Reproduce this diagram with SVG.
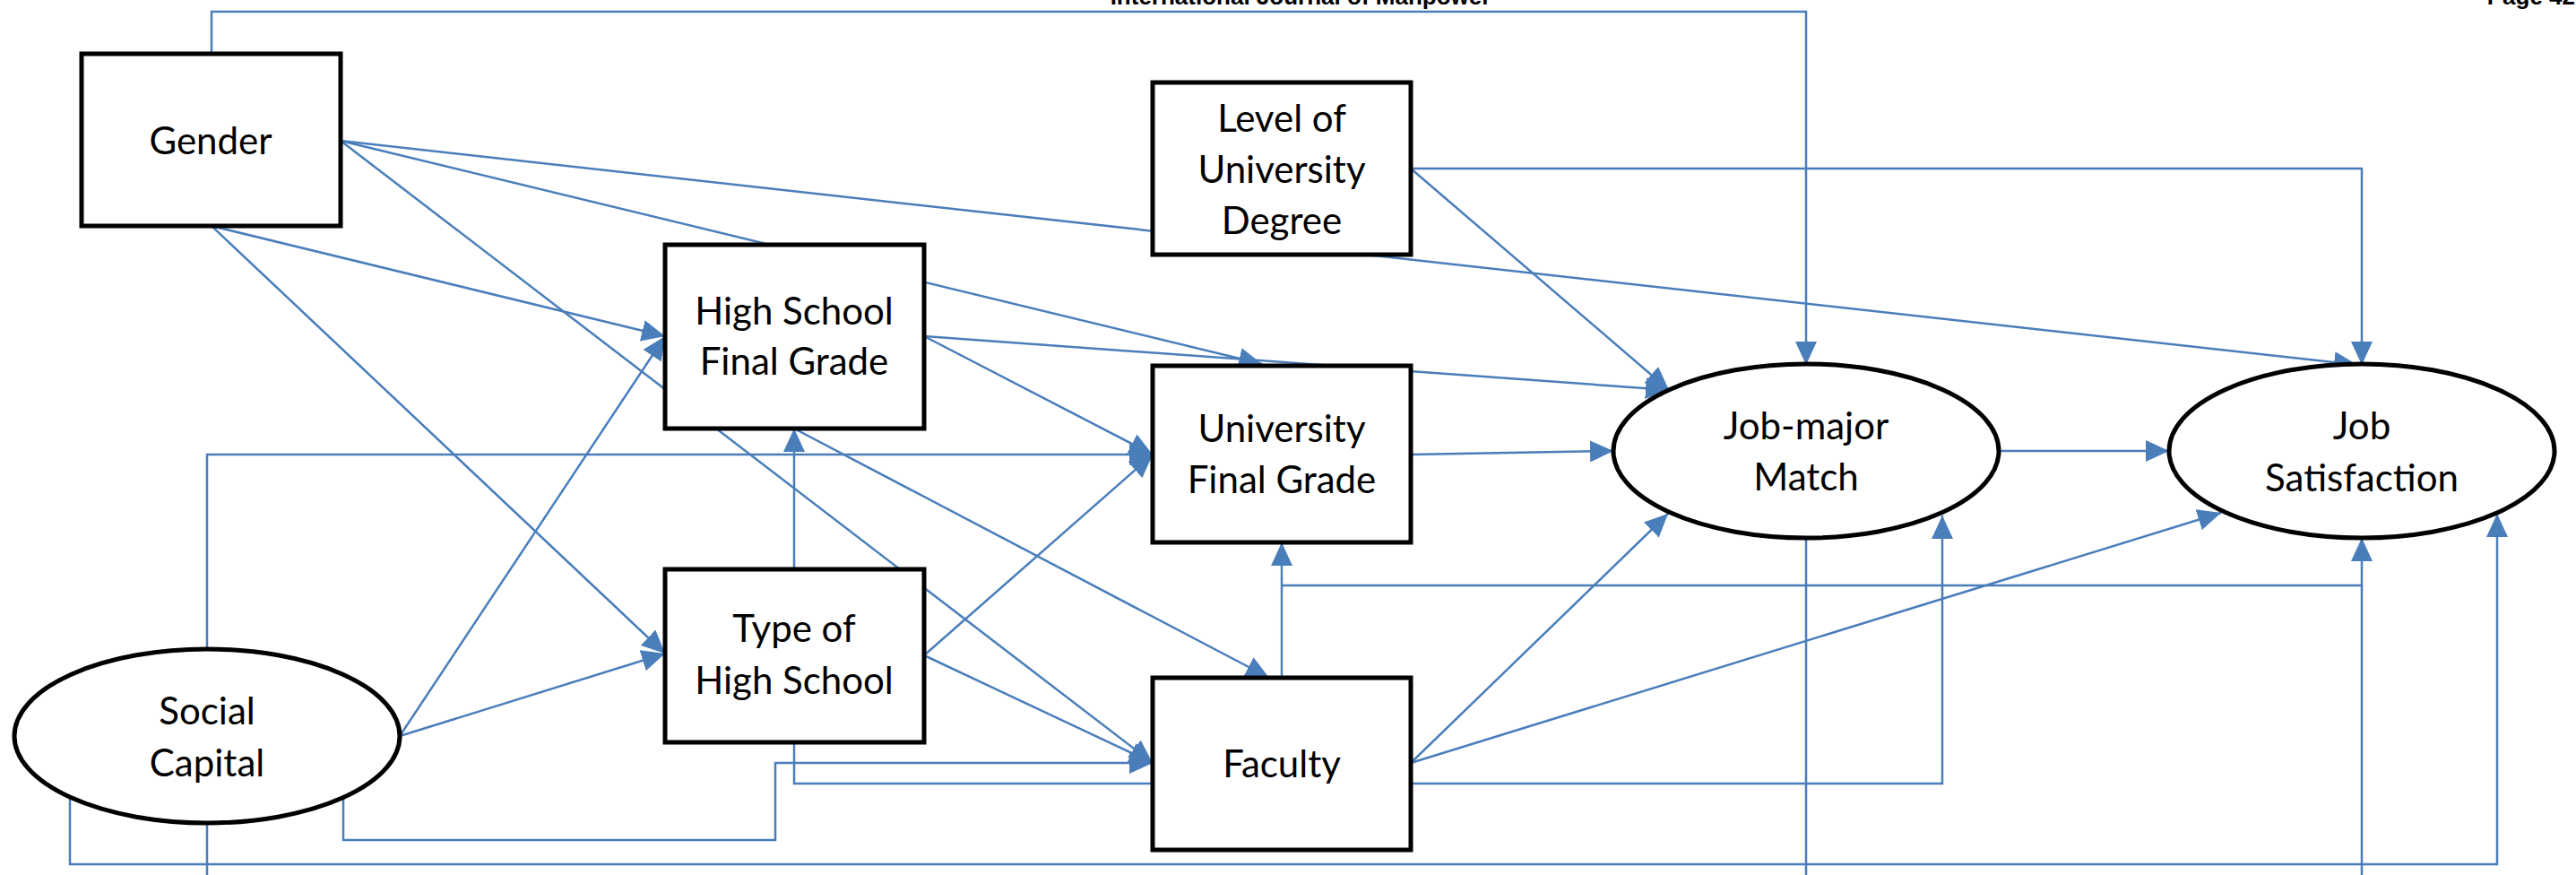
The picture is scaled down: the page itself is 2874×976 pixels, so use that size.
<svg xmlns="http://www.w3.org/2000/svg" width="2874" height="976" viewBox="0 0 2874 976">
<style>
.box{fill:#fff;stroke:#000;stroke-width:5}
.lbl{font-family:Lato,"Open Sans",sans-serif;font-size:42px;fill:#000;text-anchor:middle}
.hdr{font-family:"Liberation Sans",Arial,sans-serif;font-weight:bold;font-size:26px;fill:#000}
.c{fill:none;stroke:#4A7EBB;stroke-width:2.5}
.a{marker-end:url(#arr)}
</style>
<defs>
<marker id="arr" markerUnits="userSpaceOnUse" markerWidth="26" markerHeight="24" viewBox="0 0 26 24" refX="26" refY="12" orient="auto">
<path d="M0,0 L26,12 L0,24 z" fill="#4A7EBB"/>
</marker>
</defs>
<rect width="2874" height="976" fill="#fff"/>
<text class="hdr" x="1451" y="5" text-anchor="middle">International Journal of Manpower</text>
<text class="hdr" x="2873" y="5" text-anchor="end">Page 42</text>
<g id="connectors">
<path class="c a" d="M236,60 V13 H2015 V407"/>
<path class="c a" d="M380,157 L2630,407"/>
<path class="c a" d="M380,157 L1408,406"/>
<path class="c a" d="M380,157 L1286,851"/>
<path class="c a" d="M236,252 L742,375"/>
<path class="c a" d="M236,252 L742,729"/>
<path class="c a" d="M446,821 L742,375"/>
<path class="c a" d="M446,821 L742,729"/>
<path class="c a" d="M231,724 V507 H1286"/>
<path class="c a" d="M383,889 V937 H865 V851 H1286"/>
<path class="c a" d="M78,889 V964 H2786 V573"/>
<path class="c" d="M231,918 V976"/>
<path class="c a" d="M886,635 V478"/>
<path class="c a" d="M1031,731 L1286,507"/>
<path class="c a" d="M1031,731 L1286,851"/>
<path class="c a" d="M886,828 V874 H2167 V575"/>
<path class="c a" d="M1031,375 L1286,507"/>
<path class="c a" d="M1031,375 L1862,435"/>
<path class="c a" d="M886,478 L1416,756"/>
<path class="c a" d="M1574,188 L1862,435"/>
<path class="c a" d="M1574,188 H2635 V407"/>
<path class="c a" d="M1574,507 L1800,503"/>
<path class="c a" d="M1430,756 V605"/>
<path class="c a" d="M1430,653 H2635 V600"/>
<path class="c" d="M2635,976 V653"/>
<path class="c a" d="M1574,851 L1861,573"/>
<path class="c a" d="M1574,851 L2478,572"/>
<path class="c a" d="M2229,503 L2420,503"/>
<path class="c" d="M2015,600 V976"/>
</g>
<g id="gender">
<rect class="box" x="91" y="60" width="289" height="192"/>
<text class="lbl" x="235" y="172">Gender</text>
</g>
<g id="level">
<rect class="box" x="1286" y="92" width="288" height="192"/>
<text class="lbl" x="1430" y="147">Level of</text>
<text class="lbl" x="1430" y="204">University</text>
<text class="lbl" x="1430" y="261">Degree</text>
</g>
<g id="hsfg">
<rect class="box" x="742" y="273" width="289" height="205"/>
<text class="lbl" x="886" y="362">High School</text>
<text class="lbl" x="886" y="418">Final Grade</text>
</g>
<g id="ufg">
<rect class="box" x="1286" y="408" width="288" height="197"/>
<text class="lbl" x="1430" y="493">University</text>
<text class="lbl" x="1430" y="550">Final Grade</text>
</g>
<g id="typehs">
<rect class="box" x="742" y="635" width="289" height="193"/>
<text class="lbl" x="886" y="716">Type of</text>
<text class="lbl" x="886" y="774">High School</text>
</g>
<g id="faculty">
<rect class="box" x="1286" y="756" width="288" height="192"/>
<text class="lbl" x="1430" y="867">Faculty</text>
</g>
<g id="social">
<ellipse class="box" cx="231" cy="821" rx="215" ry="97"/>
<text class="lbl" x="231" y="808">Social</text>
<text class="lbl" x="231" y="866">Capital</text>
</g>
<g id="jmm">
<ellipse class="box" cx="2015" cy="503" rx="215" ry="97"/>
<text class="lbl" x="2015" y="490">Job-major</text>
<text class="lbl" x="2015" y="547">Match</text>
</g>
<g id="js">
<ellipse class="box" cx="2635" cy="503" rx="215" ry="97"/>
<text class="lbl" x="2635" y="490">Job</text>
<text class="lbl" x="2635" y="548">Satisfaction</text>
</g>
</svg>
